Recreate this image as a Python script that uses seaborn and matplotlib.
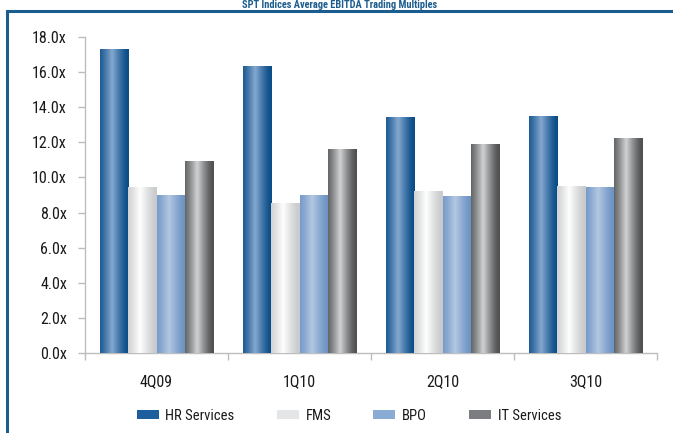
import numpy as np
import pandas as pd
import seaborn as sns
import matplotlib
matplotlib.use("Agg")
import matplotlib.pyplot as plt
from matplotlib.colors import LinearSegmentedColormap
from matplotlib.patches import Patch, Rectangle
from matplotlib import font_manager

quarters = ["4Q09", "1Q10", "2Q10", "3Q10"]
series = ["HR Services", "FMS", "BPO", "IT Services"]
hr_services = [17.3, 16.3, 13.4, 13.5]
fms = [9.4, 8.5, 9.2, 9.5]
bpo = [9.0, 9.0, 8.9, 9.4]
it_services = [10.9, 11.6, 11.9, 12.2]
y_ticks = [0, 2, 4, 6, 8, 10, 12, 14, 16, 18]
title = "SPT Indices Average EBITDA Trading Multiples"

df = pd.DataFrame({
    "quarter": quarters * 4,
    "series": [s for s in series for _ in quarters],
    "value": hr_services + fms + bpo + it_services,
})

# edge / highlight colours for the cylinder-style shading of each series
shades = {
    "HR Services": ("#0b4d88", "#86a9d0"),
    "FMS": ("#c9cacc", "#ffffff"),
    "BPO": ("#6c93c4", "#b4c8e2"),
    "IT Services": ("#505153", "#d2d3d5"),
}
solid = {"HR Services": "#1d5f9c", "FMS": "#e4e5e6", "BPO": "#8aabd4", "IT Services": "#7c7d80"}

# pick a narrow sans face if one is present
fonts = font_manager.fontManager.ttflist
names = {f.name for f in fonts}
font, stretch = "DejaVu Sans", "normal"
for cand in ["Liberation Sans Narrow", "Roboto Condensed", "Open Sans Condensed"]:
    if cand in names:
        font = cand
        break
else:
    if any(f.name == "DejaVu Sans" and f.stretch == "condensed" for f in fonts):
        stretch = "condensed"

sns.set_theme(style="white")
plt.rcParams["font.family"] = [font, "DejaVu Sans"]
plt.rcParams["font.stretch"] = stretch

fig = plt.figure(figsize=(6.73, 4.33), dpi=100)
ax = fig.add_axes([85 / 673, 1 - 353 / 433, (657 - 85) / 673, (353 - 37) / 433])

sns.barplot(data=df, x="quarter", y="value", hue="series", order=quarters,
            hue_order=series, palette=solid, width=0.79, gap=0,
            saturation=1, legend=False, ax=ax, linewidth=0)

# cylinder shading over each bar
prof = np.linspace(0, 1, 64)
profile = np.clip(1 - np.abs(prof - 0.42) / 0.55, 0, 1) ** 1.3
grad = profile[np.newaxis, :]
bars = [p for p in ax.patches if isinstance(p, Rectangle)]
for i, bar in enumerate(bars):
    s = series[i // len(quarters)]
    cmap = LinearSegmentedColormap.from_list(s, list(shades[s]))
    x0, y0 = bar.get_x(), bar.get_y()
    w, h = bar.get_width(), bar.get_height()
    ax.imshow(grad, extent=[x0, x0 + w, y0, y0 + h], aspect="auto",
              cmap=cmap, vmin=0, vmax=1, zorder=3, interpolation="bicubic")

ax.set_xlim(-0.5, 3.5)
ax.set_ylim(0, 18)
ax.set_yticks(y_ticks)
ax.set_yticklabels([f"{v:.1f}x" for v in y_ticks])
ax.set_xticks(range(len(quarters)))
ax.set_xticklabels(quarters)
ax.set_xticks([-0.5, 0.5, 1.5, 2.5, 3.5], minor=True)
ax.set_xlabel("")
ax.set_ylabel("")

for side in ["top", "right"]:
    ax.spines[side].set_visible(False)
for side in ["left", "bottom"]:
    ax.spines[side].set_color("#bdbdbd")
    ax.spines[side].set_linewidth(1.0)

ax.tick_params(axis="y", which="major", left=True, length=5, width=1, color="#bdbdbd",
               labelsize=11.5, labelcolor="#1a1a1a", pad=8)
ax.tick_params(axis="x", which="major", bottom=False, labelsize=11.5,
               labelcolor="#1a1a1a", pad=9)
ax.tick_params(axis="x", which="minor", bottom=True, length=5, width=1, color="#bdbdbd")

handles = [Patch(facecolor=solid[s], edgecolor="none") for s in series]
fig.legend(handles, series, loc="center", bbox_to_anchor=(349 / 673, 1 - 416 / 433),
           ncol=4, frameon=False, fontsize=10.5, handlelength=1.5, handleheight=0.6,
           handletextpad=0.45, columnspacing=2.9, labelcolor="#1a1a1a")

# page frame and heading
fig.add_artist(Rectangle((7 / 673, -0.05), 1.1, 1 - 11 / 433 + 0.05,
                         transform=fig.transFigure, fill=False,
                         edgecolor="#1b5d8e", linewidth=2.2))
fig.text(340 / 673, 1 - 5 / 433, title, ha="center", va="center", fontsize=7.5,
         fontweight="bold", color="#1b5d8e")

fig.savefig("out.png", dpi=100)
